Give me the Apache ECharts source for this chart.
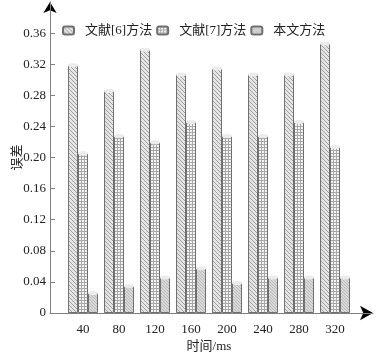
<!DOCTYPE html>
<html><head><meta charset="utf-8">
<script src="https://cdn.jsdelivr.net/npm/echarts@6/dist/echarts.min.js"></script>
<style>html,body{margin:0;padding:0;background:#fff}#c{width:379px;height:355px}</style>
</head><body><div id="c"></div>
<script>
var categories = ['40','80','120','160','200','240','280','320'];
var seriesNames = ['文献[6]方法','文献[7]方法','本文方法'];
var ref6 = [0.319,0.286,0.339,0.307,0.315,0.307,0.307,0.347];
var ref7 = [0.206,0.228,0.220,0.246,0.228,0.228,0.246,0.214];
var ours = [0.026,0.035,0.046,0.058,0.039,0.046,0.046,0.046];
var yTicks = [0,0.04,0.08,0.12,0.16,0.20,0.24,0.28,0.32,0.36];

function pattern(kind){
  var c = document.createElement('canvas');
  var ctx = c.getContext('2d');
  if(kind===0){
    c.width=4;c.height=4;
    ctx.fillStyle='#e4e4e4';ctx.fillRect(0,0,4,4);
    ctx.fillStyle='#a0a0a0';
    for(var i=0;i<4;i++){ctx.fillRect(i,i,1,1);}
  } else if(kind===1){
    c.width=3;c.height=3;
    ctx.fillStyle='#f4f4f4';ctx.fillRect(0,0,3,3);
    ctx.fillStyle='#a8a8a8';ctx.fillRect(0,0,3,1);ctx.fillRect(0,0,1,3);
  } else {
    c.width=3;c.height=3;
    ctx.fillStyle='#d8d8d8';ctx.fillRect(0,0,3,3);
    ctx.fillStyle='#bcbcbc';
    for(var j=0;j<3;j++){ctx.fillRect(j,j,1,1);}
  }
  return {image:c,repeat:'repeat'};
}
var dataSets=[ref6,ref7,ours];
var series=[];
dataSets.forEach(function(d,k){
  series.push({name:seriesNames[k],type:'bar',xAxisIndex:0,yAxisIndex:0,data:d,barWidth:10,barGap:'0%',
    itemStyle:{color:pattern(k),borderColor:'#707070',borderWidth:1}});
});
dataSets.forEach(function(d,k){
  series.push({name:'top'+k,type:'pictorialBar',xAxisIndex:0,yAxisIndex:0,data:d,barWidth:10,barGap:'0%',
    symbol:'circle',symbolSize:[10,4],symbolPosition:'end',symbolOffset:[0,'-50%'],z:10,
    itemStyle:{color:'#ececec',borderColor:'#707070',borderWidth:1}});
});
var font="'Liberation Serif','Noto Sans CJK SC',serif";
var chart=echarts.init(document.getElementById('c'),null,{renderer:'canvas'});
chart.setOption({
  animation:false,
  textStyle:{fontFamily:font},
  legend:{data:seriesNames,top:19,left:57,itemWidth:11,itemHeight:8,itemGap:4,icon:'roundRect',
    textStyle:{fontSize:13,color:'#222',fontFamily:font,padding:[0,0,0,6]}},
  grid:[{left:65,right:26,top:2,bottom:42,outerBoundsMode:'none'},
        {left:50,right:6,top:2,bottom:42,outerBoundsMode:'none'}],
  xAxis:[
    {type:'category',gridIndex:0,data:categories,axisLine:{show:false},axisTick:{show:false},
     axisLabel:{fontSize:13,color:'#222',margin:10,fontFamily:font},
     name:'时间/ms',nameLocation:'middle',nameGap:27,nameMoveOverlap:false,nameTextStyle:{fontSize:13,color:'#222',fontFamily:font}},
    {type:'value',gridIndex:1,position:'bottom',offset:0,min:0,max:1,axisLabel:{show:false},axisTick:{show:false},splitLine:{show:false},z:1,
     axisLine:{show:true,onZero:false,lineStyle:{color:'#000',width:0},symbol:['none','arrow'],symbolSize:[11,13]}},
    {type:'value',gridIndex:1,position:'bottom',offset:0,min:0,max:1,axisLabel:{show:false},axisTick:{show:false},splitLine:{show:false},z:3,
     axisLine:{show:true,onZero:false,lineStyle:{color:'#808080',width:1}}}
  ],
  yAxis:[
    {type:'value',gridIndex:0,min:0,max:0.4,show:false},
    {type:'value',gridIndex:1,position:'left',offset:0,min:0,max:0.4,interval:0.04,splitLine:{show:false},z:1,
     axisLine:{show:true,onZero:false,lineStyle:{color:'#000',width:0},symbol:['none','arrow'],symbolSize:[10,11]},
     axisTick:{show:false},axisLabel:{show:false}},
    {type:'value',gridIndex:1,position:'left',offset:0,min:0,max:0.4,interval:0.04,splitLine:{show:false},z:3,
     axisLine:{show:true,onZero:false,lineStyle:{color:'#808080',width:1}},
     axisTick:{show:true,inside:true,length:5,lineStyle:{color:'#808080'},customValues:yTicks},
     axisLabel:{customValues:yTicks,fontSize:13,color:'#222',margin:4,fontFamily:font,
       formatter:function(v){return v===0?'0':v.toFixed(2);}},
     name:'误差',nameLocation:'middle',nameGap:26,nameRotate:90,nameMoveOverlap:false,nameTextStyle:{fontSize:13,color:'#222',fontFamily:font}}
  ],
  series:series
});
</script></body></html>
